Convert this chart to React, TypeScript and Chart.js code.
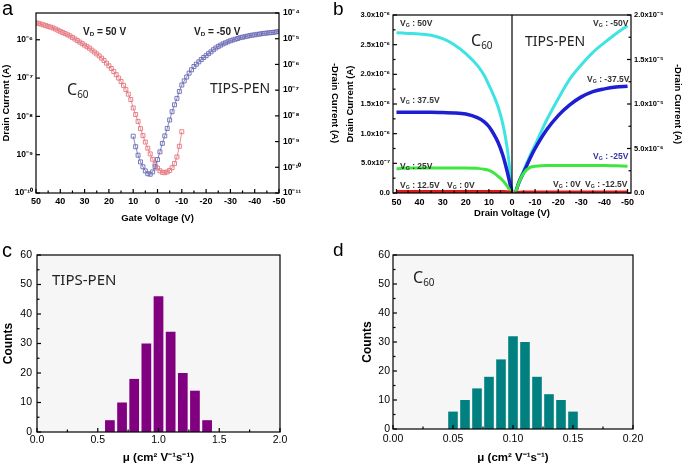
import React, { useEffect, useRef } from "react";
import { Chart, registerables } from "chart.js";

Chart.register(...registerables);

const FONT = "'Liberation Sans', Arial, Helvetica, sans-serif";
const LABEL_FONT = "'Noto Sans', 'Open Sans', sans-serif";
Chart.defaults.font.family = FONT;
Chart.defaults.color = "#000";

// ---------------- Panel a: transfer curves (log scale) ----------------
const aGateRed = [
  50, 49, 48, 47, 46, 45, 44, 43, 42, 41, 40, 39, 38, 37, 36, 35, 34, 33, 32, 31,
  30, 29, 28, 27, 26, 25, 24, 23, 22, 21, 20, 19, 18, 17, 16, 15, 14, 13, 12, 11,
  10, 9, 8, 7, 6, 5, 4, 3, 2, 1, 0, -1, -2, -3, -4, -5, -6, -7, -8, -9, -10,
];
const aCurrentRed = [
  2.75e-6, 2.69e-6, 2.57e-6, 2.45e-6, 2.34e-6, 2.24e-6, 2.14e-6, 2.04e-6, 1.91e-6, 1.78e-6,
  1.66e-6, 1.55e-6, 1.45e-6, 1.35e-6, 1.26e-6, 1.15e-6, 1.05e-6, 9.55e-7, 8.71e-7, 7.94e-7,
  7.24e-7, 6.61e-7, 6.03e-7, 5.37e-7, 4.79e-7, 4.27e-7, 3.8e-7, 3.31e-7, 2.88e-7, 2.45e-7,
  2.09e-7, 1.78e-7, 1.48e-7, 1.23e-7, 1.0e-7, 8.13e-8, 6.46e-8, 5.01e-8, 3.8e-8, 2.75e-8,
  1.66e-8, 1.12e-8, 7.41e-9, 4.79e-9, 3.16e-9, 2.14e-9, 1.48e-9, 1.05e-9, 7.59e-10, 5.62e-10,
  4.47e-10, 3.8e-10, 3.47e-10, 3.39e-10, 3.55e-10, 3.89e-10, 4.57e-10, 5.89e-10, 8.71e-10, 1.66e-9, 3.98e-9,
];
const aGateBlue = [
  10, 9, 8, 7, 6, 5, 4, 3, 2, 1, 0, -1, -2, -3, -4, -5, -6, -7, -8, -9,
  -10, -11, -12, -13, -14, -15, -16, -17, -18, -19, -20, -21, -22, -23, -24, -25, -26, -27, -28, -29,
  -30, -31, -32, -33, -34, -35, -36, -37, -38, -39, -40, -41, -42, -43, -44, -45, -46, -47, -48, -49, -50,
];
const aCurrentBlue = [
  1.62e-9, 6.31e-10, 2.95e-10, 1.62e-10, 1.05e-10, 7.24e-11, 5.62e-11, 5.37e-11, 6.61e-11, 1.05e-10,
  2.0e-10, 3.98e-10, 8.51e-10, 1.66e-9, 3.24e-9, 6.92e-9, 1.45e-8, 2.69e-8, 4.79e-8, 8.91e-8,
  1.58e-7, 2.29e-7, 3.24e-7, 4.57e-7, 6.17e-7, 8.32e-7, 1.02e-6, 1.26e-6, 1.55e-6, 1.86e-6,
  2.19e-6, 2.63e-6, 3.09e-6, 3.72e-6, 4.37e-6, 5.01e-6, 5.62e-6, 6.31e-6, 6.92e-6, 7.59e-6,
  8.32e-6, 8.91e-6, 9.55e-6, 1.02e-5, 1.1e-5, 1.15e-5, 1.2e-5, 1.26e-5, 1.32e-5, 1.38e-5,
  1.41e-5, 1.48e-5, 1.51e-5, 1.58e-5, 1.62e-5, 1.66e-5, 1.7e-5, 1.74e-5, 1.78e-5, 1.86e-5, 1.91e-5,
];
const aGateTicks = [50, 40, 30, 20, 10, 0, -10, -20, -30, -40, -50];
const aLeftTicks = [1e-10, 1e-9, 1e-8, 1e-7, 1e-6];
const aRightTicks = [1e-11, 1e-10, 1e-9, 1e-8, 1e-7, 1e-6, 1e-5, 1e-4];

// ---------------- Panel b: output curves ----------------
const bDrainC60 = [50, 45, 40, 35, 30, 25, 20, 15, 12, 10, 8, 6, 4, 2, 1, 0];
const bC60Vg50 = [2.7e-6, 2.69e-6, 2.68e-6, 2.66e-6, 2.6e-6, 2.5e-6, 2.35e-6, 2.15e-6, 1.98e-6, 1.82e-6, 1.65e-6, 1.45e-6, 1.17e-6, 0.74e-6, 0.41e-6, 0];
const bC60Vg375 = [1.36e-6, 1.36e-6, 1.36e-6, 1.36e-6, 1.355e-6, 1.35e-6, 1.33e-6, 1.27e-6, 1.2e-6, 1.12e-6, 1.0e-6, 0.85e-6, 0.64e-6, 0.35e-6, 0.18e-6, 0];
const bC60Vg25 = [0.41e-6, 0.42e-6, 0.42e-6, 0.42e-6, 0.42e-6, 0.42e-6, 0.42e-6, 0.415e-6, 0.4e-6, 0.38e-6, 0.34e-6, 0.28e-6, 0.21e-6, 0.11e-6, 0.05e-6, 0];
const bC60Vg125 = [2.5e-8, 2.5e-8, 2.5e-8, 2.5e-8, 2.5e-8, 2.5e-8, 2.5e-8, 2.5e-8, 2.5e-8, 2.5e-8, 2.5e-8, 2.5e-8, 2.4e-8, 2.2e-8, 1.5e-8, 0];
const bC60Vg0 = [5e-9, 5e-9, 5e-9, 5e-9, 5e-9, 5e-9, 5e-9, 5e-9, 5e-9, 5e-9, 5e-9, 5e-9, 5e-9, 5e-9, 3e-9, 0];

const bDrainTips = [-1.5, -3, -5, -8, -10, -15, -20, -25, -30, -35, -40, -45, -50];
const bTipsVg50 = [0, 1.3e-6, 2.5e-6, 4.3e-6, 5.4e-6, 8.2e-6, 1.06e-5, 1.28e-5, 1.44e-5, 1.58e-5, 1.69e-5, 1.79e-5, 1.88e-5];
const bTipsVg375 = [0, 1.2e-6, 2.3e-6, 4.0e-6, 5.0e-6, 7.1e-6, 8.7e-6, 9.9e-6, 1.08e-5, 1.14e-5, 1.17e-5, 1.19e-5, 1.2e-5];
const bTipsVg25 = [0, 1.2e-6, 2.2e-6, 2.9e-6, 3.0e-6, 3.1e-6, 3.1e-6, 3.1e-6, 3.1e-6, 3.1e-6, 3.1e-6, 3.05e-6, 3.0e-6];
const bTipsVg125 = [0, 8e-8, 1e-7, 1e-7, 1e-7, 1e-7, 1e-7, 1e-7, 1e-7, 1e-7, 1e-7, 1e-7, 1e-7];
const bTipsVg0 = [0, 3e-8, 3e-8, 3e-8, 3e-8, 3e-8, 3e-8, 3e-8, 3e-8, 3e-8, 3e-8, 3e-8, 3e-8];
const bDrainTicks = [50, 40, 30, 20, 10, 0, -10, -20, -30, -40, -50];
const bLeftTicks = [0, 5e-7, 1e-6, 1.5e-6, 2e-6, 2.5e-6, 3e-6];
const bRightTicks = [0, 5e-6, 1e-5, 1.5e-5, 2e-5];

// ---------------- Panel c / d: mobility histograms ----------------
const cMobility = [0.6, 0.7, 0.8, 0.9, 1.0, 1.1, 1.2, 1.3, 1.4];
const cCounts = [4, 10, 18, 30, 46, 34, 20, 14, 4];
const cMobilityTicks = [0, 0.5, 1.0, 1.5, 2.0];
const dMobility = [0.05, 0.06, 0.07, 0.08, 0.09, 0.1, 0.11, 0.12, 0.13, 0.14, 0.15];
const dCounts = [6, 10, 14, 18, 24, 32, 30, 18, 12, 10, 6];
const dMobilityTicks = [0, 0.05, 0.1, 0.15, 0.2];
const countTicks = [0, 10, 20, 30, 40, 50, 60];

// ---------------- helpers ----------------
const SUP: Record<string, string> = {
  "-": "\u207B", "0": "\u2070", "1": "\u00B9", "2": "\u00B2", "3": "\u00B3",
  "4": "\u2074", "5": "\u2075", "6": "\u2076", "7": "\u2077", "8": "\u2078", "9": "\u2079",
};
const sup = (n: number) => String(n).split("").map((c) => SUP[c] || c).join("");
const pow10Label = (v: number) => "10" + sup(Math.round(Math.log10(v)));
const sciLabel = (v: number) => {
  if (v === 0) return "0.0";
  const e = Math.floor(Math.log10(v) + 1e-9);
  return (v / Math.pow(10, e)).toFixed(1) + "x10" + sup(e);
};
const setTicks = (list: number[]) => (s: any) => {
  s.ticks = list.map((value) => ({ value }));
};
const fixW = (w: number) => (s: any) => { s.width = w; };
const fixH = (h: number) => (s: any) => { s.height = h; };
const bold = (size: number) => ({ size, weight: "bold" as const, family: FONT });
const noGrid = { display: false, drawTicks: false };
const noBorder = { display: false };

const framePlugin = {
  id: "frame",
  beforeDraw(chart: any, _a: any, opts: any) {
    if (!opts || !opts.bg) return;
    const { ctx, chartArea: ca } = chart;
    ctx.save();
    ctx.fillStyle = opts.bg;
    ctx.fillRect(ca.left, ca.top, ca.right - ca.left, ca.bottom - ca.top);
    ctx.restore();
  },
  afterDraw(chart: any, _a: any, opts: any) {
    const { ctx, chartArea: ca } = chart;
    ctx.save();
    ctx.strokeStyle = "#000";
    ctx.lineWidth = 1.2;
    const halves: string[] = (opts && opts.halves) || [];
    for (const id of Object.keys(chart.scales)) {
      const s = chart.scales[id];
      const draw = (v: number, len: number) => {
        const p = s.getPixelForValue(v);
        ctx.beginPath();
        if (s.position === "left") { ctx.moveTo(ca.left, p); ctx.lineTo(ca.left + len, p); }
        else if (s.position === "right") { ctx.moveTo(ca.right, p); ctx.lineTo(ca.right - len, p); }
        else { ctx.moveTo(p, ca.bottom); ctx.lineTo(p, ca.bottom - len); }
        ctx.stroke();
      };
      const vals = s.ticks.map((t: any) => t.value);
      vals.forEach((v: number) => draw(v, 4));
      if (halves.indexOf(id) >= 0) {
        for (let i = 0; i < vals.length - 1; i++) draw((vals[i] + vals[i + 1]) / 2, 2.5);
      }
    }
    if (opts && opts.zeroLine) {
      const p = chart.scales.x.getPixelForValue(0);
      ctx.beginPath();
      ctx.moveTo(p, ca.top);
      ctx.lineTo(p, ca.bottom);
      ctx.stroke();
    }
    ctx.strokeRect(ca.left, ca.top, ca.right - ca.left, ca.bottom - ca.top);
    ctx.restore();
  },
};
Chart.register(framePlugin as any);

const basePlugins = (frame: any) => ({
  legend: { display: false },
  tooltip: { enabled: false },
  frame,
});

// ---------------- chart configs ----------------
const RED_A = "#e5757d";
const BLUE_A = "#6a6ab6";

function makeA(): any {
  const pts = (xs: number[], ys: number[]) => xs.map((x, i) => ({ x, y: ys[i] }));
  const marker = (c: string) => ({
    showLine: true, borderColor: c, borderWidth: 0.8, pointStyle: "rect", pointRadius: 2.8,
    pointBorderWidth: 0.9, pointBorderColor: c, pointBackgroundColor: "rgba(255,255,255,0)",
  });
  return {
    type: "scatter",
    data: {
      datasets: [
        { label: "TIPS-PEN", data: pts(aGateBlue, aCurrentBlue), yAxisID: "y2", ...marker(BLUE_A) },
        { label: "C60", data: pts(aGateRed, aCurrentRed), yAxisID: "y", ...marker(RED_A) },
      ],
    },
    options: {
      responsive: false, animation: false, events: [],
      layout: { padding: { top: 13, left: 0, right: 0, bottom: 0 } },
      plugins: basePlugins({ halves: ["x"] }),
      scales: {
        x: {
          type: "linear", position: "bottom", min: -50, max: 50, reverse: true,
          afterBuildTicks: setTicks(aGateTicks), afterFit: fixH(37),
          grid: noGrid, border: noBorder,
          ticks: { font: bold(9), padding: 3, autoSkip: false, maxRotation: 0, callback: (v: number) => String(v) },
          title: { display: true, text: "Gate Voltage (V)", font: bold(9.5), padding: { top: 0, bottom: 6 } },
        },
        y: {
          type: "logarithmic", position: "left", min: 1e-10, max: 5e-6,
          afterBuildTicks: setTicks(aLeftTicks), afterFit: fixW(36),
          grid: noGrid, border: noBorder,
          ticks: { font: bold(8.5), padding: 3, autoSkip: false, callback: (v: number) => pow10Label(v) },
          title: { display: true, text: "Drain Current (A)", font: bold(9.5), padding: { top: 1, bottom: 0 } },
        },
        y2: {
          type: "logarithmic", position: "right", min: 1e-11, max: 1e-4,
          afterBuildTicks: setTicks(aRightTicks), afterFit: fixW(61),
          grid: noGrid, border: noBorder,
          ticks: { font: bold(8.5), padding: 4, autoSkip: false, callback: (v: number) => pow10Label(v) },
          title: { display: true, text: "-Drain Current (A)", font: bold(9.5), padding: { top: 0, bottom: 0 } },
        },
      },
    },
  };
}

function makeB(): any {
  const pts = (xs: number[], ys: number[]) => xs.map((x, i) => ({ x, y: ys[i] }));
  const line = (c: string, w: number) => ({
    showLine: true, borderColor: c, borderWidth: w, pointRadius: 0, cubicInterpolationMode: "monotone",
  });
  const CYAN = "#3fe3e3", BLUE = "#1e1ed2", GREEN = "#3ee63e", RED = "#e01818";
  return {
    type: "scatter",
    data: {
      datasets: [
        { label: "VG 0V", data: pts(bDrainC60, bC60Vg0), yAxisID: "y", ...line(RED, 2) },
        { label: "VG 12.5V", data: pts(bDrainC60, bC60Vg125), yAxisID: "y", ...line(RED, 3) },
        { label: "VG 25V", data: pts(bDrainC60, bC60Vg25), yAxisID: "y", ...line(GREEN, 3) },
        { label: "VG 37.5V", data: pts(bDrainC60, bC60Vg375), yAxisID: "y", ...line(BLUE, 3.5) },
        { label: "VG 50V", data: pts(bDrainC60, bC60Vg50), yAxisID: "y", ...line(CYAN, 3) },
        { label: "VG 0V", data: pts(bDrainTips, bTipsVg0), yAxisID: "y2", ...line(RED, 2) },
        { label: "VG -12.5V", data: pts(bDrainTips, bTipsVg125), yAxisID: "y2", ...line(RED, 3) },
        { label: "VG -25V", data: pts(bDrainTips, bTipsVg25), yAxisID: "y2", ...line(GREEN, 3) },
        { label: "VG -37.5V", data: pts(bDrainTips, bTipsVg375), yAxisID: "y2", ...line(BLUE, 3.5) },
        { label: "VG -50V", data: pts(bDrainTips, bTipsVg50), yAxisID: "y2", ...line(CYAN, 3) },
      ],
    },
    options: {
      responsive: false, animation: false, events: [],
      layout: { padding: { top: 15, left: 0, right: 0, bottom: 0 } },
      plugins: basePlugins({ zeroLine: true, halves: ["x", "y", "y2"] }),
      scales: {
        x: {
          type: "linear", position: "bottom", min: -51.5, max: 51.5, reverse: true,
          afterBuildTicks: setTicks(bDrainTicks), afterFit: fixH(37),
          grid: noGrid, border: noBorder,
          ticks: { font: bold(9), padding: 4, autoSkip: false, maxRotation: 0, callback: (v: number) => String(v) },
          title: { display: true, text: "Drain Voltage (V)", font: bold(9.5), padding: { top: 0, bottom: 11 } },
        },
        y: {
          type: "linear", position: "left", min: 0, max: 3e-6,
          afterBuildTicks: setTicks(bLeftTicks), afterFit: fixW(53),
          grid: noGrid, border: noBorder,
          ticks: { font: bold(7.5), padding: 3, autoSkip: false, callback: (v: number) => sciLabel(v) },
          title: { display: true, text: "Drain Current (A)", font: bold(9.5), padding: { top: 5, bottom: 0 } },
        },
        y2: {
          type: "linear", position: "right", min: 0, max: 2e-5,
          afterBuildTicks: setTicks(bRightTicks), afterFit: fixW(54),
          grid: noGrid, border: noBorder,
          ticks: { font: bold(7.5), padding: 3, autoSkip: false, callback: (v: number) => sciLabel(v) },
          title: { display: true, text: "-Drain Current (A)", font: bold(9.5), padding: { top: 2, bottom: 0 } },
        },
      },
    },
  };
}

function makeHist(
  xs: number[], ys: number[], xTicks: number[], xMax: number, digits: number, color: string,
  leftW: number, rightPad: number, xH: number, titlePad: number, xPad: number, yPad: number,
): any {
  return {
    type: "bar",
    data: {
      datasets: [{
        label: "Counts", data: xs.map((x, i) => ({ x, y: ys[i] })), backgroundColor: color,
        borderWidth: 0, barPercentage: 0.8, categoryPercentage: 1,
      }],
    },
    options: {
      responsive: false, animation: false, events: [],
      layout: { padding: { top: 25, left: 0, right: rightPad, bottom: 0 } },
      plugins: basePlugins({ bg: "#f6f6f6", halves: ["x", "y"] }),
      scales: {
        x: {
          type: "linear", position: "bottom", min: 0, max: xMax, offset: false,
          afterBuildTicks: setTicks(xTicks), afterFit: fixH(xH),
          grid: { ...noGrid, offset: false }, border: noBorder,
          ticks: { font: { size: 10.5, family: FONT }, padding: xPad, autoSkip: false, maxRotation: 0, callback: (v: number) => v.toFixed(digits) },
          title: { display: true, text: "\u03BC (cm\u00B2 V\u207B\u00B9s\u207B\u00B9)", font: bold(11.5), padding: { top: 0, bottom: 1 } },
        },
        y: {
          type: "linear", position: "left", min: 0, max: 60,
          afterBuildTicks: setTicks(countTicks), afterFit: fixW(leftW),
          grid: noGrid, border: noBorder,
          ticks: { font: { size: 10.5, family: FONT }, padding: yPad, autoSkip: false, callback: (v: number) => String(v) },
          title: { display: true, text: "Counts", font: bold(12), padding: { top: titlePad, bottom: 0 } },
        },
      },
    },
  };
}

// ---------------- components ----------------
function ChartBox(props: { left: number; top: number; width: number; height: number; make: () => any }) {
  const ref = useRef<HTMLCanvasElement>(null);
  useEffect(() => {
    const chart = new Chart(ref.current as HTMLCanvasElement, props.make());
    return () => chart.destroy();
  }, []);
  return (
    <canvas
      ref={ref}
      width={props.width}
      height={props.height}
      style={{ position: "absolute", left: props.left, top: props.top, width: props.width, height: props.height }}
    />
  );
}

function Txt(props: {
  x: number; y: number; size: number; weight?: string; family?: string; color?: string; asc?: number;
  children: React.ReactNode;
}) {
  const asc = props.asc ?? (props.family === LABEL_FONT ? 0.89 : 0.85);
  return (
    <div
      style={{
        position: "absolute", left: props.x, top: props.y - asc * props.size, fontSize: props.size,
        lineHeight: `${props.size}px`, fontFamily: props.family || FONT, fontWeight: (props.weight || "normal") as any,
        color: props.color || "#000", whiteSpace: "nowrap",
      }}
    >
      {props.children}
    </div>
  );
}

const Sub = (p: { children: React.ReactNode }) => (
  <span style={{ fontSize: "0.62em", position: "relative", top: "0.3em" }}>{p.children}</span>
);

function VG(p: { x: number; y: number; text: string; color?: string }) {
  return (
    <Txt x={p.x} y={p.y} size={8.5} weight="bold" color={p.color || "#333"}>
      V<Sub>G</Sub> : {p.text}
    </Txt>
  );
}

export default function App() {
  return (
    <div style={{ position: "absolute", left: 0, top: 0, width: 685, height: 466, background: "#fff", overflow: "hidden" }}>
      <ChartBox left={0} top={0} width={340} height={230} make={makeA} />
      <ChartBox left={340} top={0} width={345} height={230} make={makeB} />
      <ChartBox
        left={0} top={230} width={340} height={236}
        make={() => makeHist(cMobility, cCounts, cMobilityTicks, 2, 1, "#800080", 37, 60, 34, 1, 2, 5)}
      />
      <ChartBox
        left={340} top={230} width={345} height={236}
        make={() => makeHist(dMobility, dCounts, dMobilityTicks, 0.2, 2, "#008080", 53, 52, 37, 20, 4, 3)}
      />

      {/* panel letters */}
      <Txt x={2} y={15} size={20}>a</Txt>
      <Txt x={333} y={15} size={19}>b</Txt>
      <Txt x={2} y={257} size={20}>c</Txt>
      <Txt x={333} y={256} size={19}>d</Txt>

      {/* panel a annotations */}
      <Txt x={83} y={35} size={10} weight="bold" color="#222">V<Sub>D</Sub> = 50 V</Txt>
      <Txt x={194} y={35} size={10} weight="bold" color="#222">V<Sub>D</Sub> = -50 V</Txt>
      <Txt x={67} y={95} size={16} family={LABEL_FONT} color="#222">C<Sub>60</Sub></Txt>
      <Txt x={210} y={93} size={14} family={LABEL_FONT} color="#222">TIPS-PEN</Txt>

      {/* panel b annotations */}
      <VG x={400} y={26} text="50V" />
      <VG x={400} y={103} text="37.5V" />
      <VG x={400} y={169} text="25V" />
      <VG x={400} y={188} text="12.5V" />
      <VG x={447} y={188} text="0V" />
      <VG x={593} y={26} text="-50V" />
      <VG x={587} y={82} text="-37.5V" />
      <VG x={593} y={159} text="-25V" color="#3535a5" />
      <VG x={553} y={187} text="0V" />
      <VG x={585} y={187} text="-12.5V" />
      <Txt x={471} y={46} size={16} family={LABEL_FONT} color="#222">C<Sub>60</Sub></Txt>
      <Txt x={525} y={46} size={14} family={LABEL_FONT} color="#222">TIPS-PEN</Txt>

      {/* panel c / d annotations */}
      <Txt x={52} y={285} size={15} family={LABEL_FONT} color="#222">TIPS-PEN</Txt>
      <Txt x={413} y={283} size={16} family={LABEL_FONT} color="#222">C<Sub>60</Sub></Txt>
    </div>
  );
}
